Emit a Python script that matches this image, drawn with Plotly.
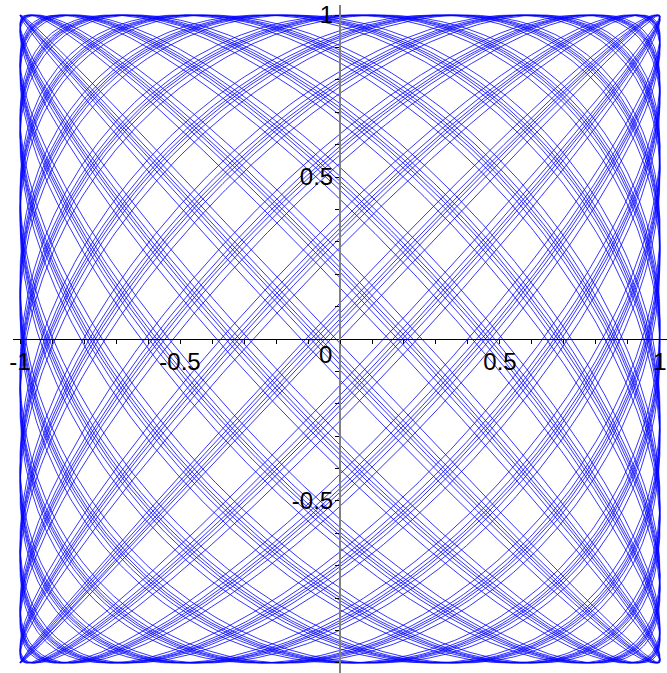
import numpy as np
import plotly.graph_objects as go

# Lissajous-type parametric curve: x = sin(fx*t), y = sin(fy*t)
freq_x = 22.0
freq_y = 23.005
t_end = 6 * np.pi
n_samples = 40000

x_ticks = [-1, -0.5, 0.5, 1]
x_tick_text = ["-1", "-0.5", "0.5", "1"]
y_ticks = [-1, -0.5, 0.5, 1]
y_tick_text = ["-1", "-0.5", "0.5", "1"]

t = np.linspace(0, t_end, n_samples)
xs = np.sin(freq_x * t)
ys = np.sin(freq_y * t)

fig = go.Figure()
fig.add_trace(go.Scatter(x=xs, y=ys, mode="lines",
                         line=dict(color="#0000ff", width=0.8), showlegend=False,
                         hoverinfo="skip"))

font = dict(family="Liberation Sans, Arial, sans-serif", size=24, color="black")

fig.update_layout(
    width=667, height=673,
    margin=dict(l=13, r=0, t=5, b=0),
    paper_bgcolor="white", plot_bgcolor="white",
    xaxis=dict(range=[-1.022, 1.022], anchor="free", position=0.5,
               showgrid=False, zeroline=False, showline=True,
               linecolor="black", linewidth=1,
               tickvals=x_ticks, ticktext=x_tick_text, tickfont=font,
               ticks="outside", ticklen=4, tickcolor="black", tickwidth=1,
               ticklabelstandoff=-3,
               minor=dict(dtick=0.1, ticks="outside", ticklen=4,
                          tickcolor="black", tickwidth=1),
               automargin=False, fixedrange=True),
    yaxis=dict(range=[-1.031, 1.031], anchor="free", position=0.5,
               showgrid=False, zeroline=False, showline=True,
               linecolor="#808080", linewidth=2,
               tickvals=y_ticks, ticktext=y_tick_text, tickfont=font,
               ticks="outside", ticklen=4, tickcolor="black", tickwidth=1,
               ticklabelstandoff=-3,
               minor=dict(dtick=0.1, ticks="outside", ticklen=4,
                          tickcolor="black", tickwidth=1),
               automargin=False, fixedrange=True),
    annotations=[dict(x=0, y=0, xref="x", yref="y", text="0", showarrow=False,
                      font=font, xanchor="right", yanchor="top", xshift=-6, yshift=0)],
)

fig.write_html("out.html", config={"displayModeBar": False})
